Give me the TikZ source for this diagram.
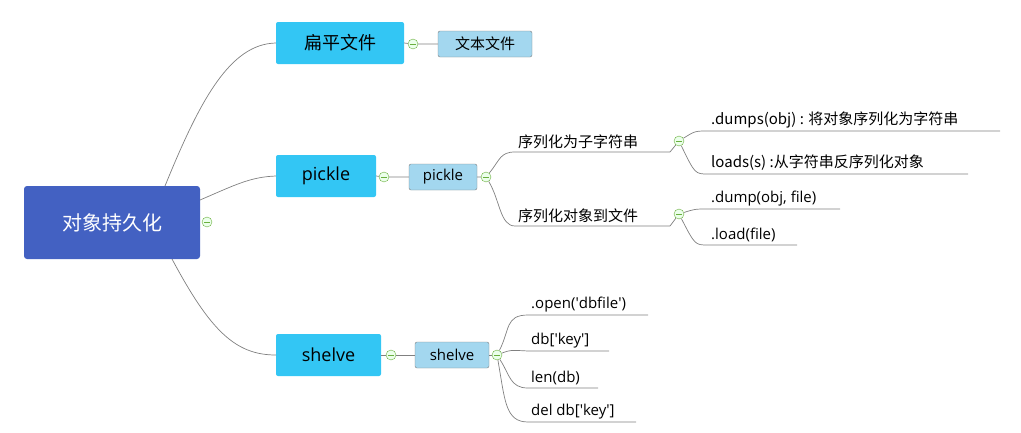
\documentclass[tikz,border=0pt]{standalone}
\usepackage{fontspec}
\setmainfont{Noto Sans CJK SC}
\newfontfamily\lat{Open Sans}
\newcommand{\q}{\textquotesingle}
\definecolor{rootc}{HTML}{4361C2}
\definecolor{mainc}{HTML}{33C6F4}
\definecolor{subc}{HTML}{A3D7EF}
\definecolor{lnc}{HTML}{808080}
\definecolor{grn}{HTML}{6AAF3D}
\begin{document}
\begin{tikzpicture}[x=1pt,y=-1pt,
 main/.style={draw=none,fill=mainc,rounded corners=2pt,minimum height=42pt,font=\fontsize{18}{18}\selectfont,inner sep=0},
 sub/.style={draw=lnc,fill=subc,rounded corners=2pt,minimum height=26pt,font=\fontsize{15}{15}\selectfont,inner sep=0},
 leaf/.style={font=\fontsize{15}{15}\selectfont,anchor=south west,inner sep=3pt},
 ln/.style={draw=lnc,line width=0.7pt},
 tog/.style={circle,draw=grn,fill=green!8,minimum size=10pt,inner sep=0,path picture={\draw[grn,line width=0.7pt] ([xshift=-3pt]path picture bounding box.center)--([xshift=3pt]path picture bounding box.center);}}]
\useasboundingbox (0,0) rectangle (1021,432);
\node[fill=rootc,rounded corners=3pt,minimum width=176pt,minimum height=73pt,text=white,font=\fontsize{20}{20}\selectfont] (root) at (112,222.5) {对象持久化};
\node[tog] (t0) at (207,222) {};
\node[main,minimum width=128pt] (flat) at (340,43) {扁平文件};
\node[main,minimum width=100pt,font=\lat\fontsize{18}{18}\selectfont] (pk) at (326,176) {pickle};
\node[main,minimum width=105pt,font=\lat\fontsize{18}{18}\selectfont] (sh) at (328.5,355) {shelve};
\coordinate (r1) at (165,186);
\coordinate (r2) at (200,200);
\coordinate (r3) at (172,259);
\draw[ln] (r1) .. controls (200,100) and (230,44) .. (flat.west);
\draw[ln] (r2) .. controls (235,185) and (250,177) .. (pk.west);
\draw[ln] (r3) .. controls (210,330) and (235,355) .. (sh.west);
% flat
\node[tog] (t1) at (413,44) {};
\node[sub,minimum width=94pt] (txt) at (485,44) {文本文件};
\draw[ln] (flat.east)--(t1)--(txt.west);
% pickle
\node[tog] (t2) at (384,177) {};
\node[sub,minimum width=68pt,font=\lat\fontsize{15}{15}\selectfont] (pk2) at (443,177) {pickle};
\node[tog] (t3) at (486,177) {};
\draw[ln] (pk.east)--(t2)--(pk2.west) (pk2.east)--(t3);
\coordinate (s1s) at (515,152); \coordinate (s2s) at (515,226);
\node[leaf] (s1) at (s1s) {序列化为子字符串};
\node[leaf] (s2) at (s2s) {序列化对象到文件};
\coordinate (s1e) at (670,152); \coordinate (s2e) at (670,226);
\draw[ln] (t3) .. controls (500,160) and (500,152) .. (s1s) -- (s1e);
\draw[ln] (t3) .. controls (500,200) and (500,226) .. (s2s) -- (s2e);
\node[tog] (t4) at (679,141) {};
\node[tog] (t5) at (679,214) {};
\draw[ln] (s1e)--(t4); \draw[ln] (s2e)--(t5);
\coordinate (a1s) at (708,131); \coordinate (a2s) at (708,174);
\coordinate (b1s) at (708,209); \coordinate (b2s) at (708,245);
\node[leaf] (a1) at (a1s) {.dumps(obj) : 将对象序列化为字符串};
\node[leaf] (a2) at (a2s) {loads(s) :从字符串反序列化对象};
\node[leaf,font=\lat\fontsize{15}{15}\selectfont] (b1) at (b1s) {.dump(obj, file)};
\node[leaf,font=\lat\fontsize{15}{15}\selectfont] (b2) at (b2s) {.load(file)};
\coordinate (a1e) at (1000,131); \coordinate (a2e) at (968,174);
\coordinate (b1e) at (840,209); \coordinate (b2e) at (797,245);
\draw[ln] (t4) .. controls (695,131) .. (a1s) -- (a1e);
\draw[ln] (t4) .. controls (695,174) .. (a2s) -- (a2e);
\draw[ln] (t5) .. controls (695,209) .. (b1s) -- (b1e);
\draw[ln] (t5) .. controls (695,245) .. (b2s) -- (b2e);
% shelve
\node[tog] (t6) at (391,355) {};
\node[sub,minimum width=74pt,font=\lat\fontsize{15}{15}\selectfont] (sh2) at (452,355) {shelve};
\node[tog] (t7) at (497,355) {};
\draw[ln] (sh.east)--(t6)--(sh2.west) (sh2.east)--(t7);
\coordinate (c1s) at (528,315); \coordinate (c2s) at (528,351);
\coordinate (c3s) at (528,388); \coordinate (c4s) at (528,422);
\begin{scope}[leaf/.append style={font=\lat\fontsize{15}{15}\selectfont}]
\node[leaf] (c1) at (c1s) {.open(\q dbfile\q)};
\node[leaf] (c2) at (c2s) {db[\q key\q]};
\node[leaf] (c3) at (c3s) {len(db)};
\node[leaf] (c4) at (c4s) {del db[\q key\q]};
\end{scope}
\coordinate (c1e) at (648,315); \coordinate (c2e) at (609,351);
\coordinate (c3e) at (598,388); \coordinate (c4e) at (636,422);
\draw[ln] (t7) .. controls (510,330) and (505,315) .. (c1s) -- (c1e);
\draw[ln] (t7) .. controls (510,350) .. (c2s) -- (c2e);
\draw[ln] (t7) .. controls (510,375) and (510,388) .. (c3s) -- (c3e);
\draw[ln] (t7) .. controls (505,400) and (505,422) .. (c4s) -- (c4e);
\end{tikzpicture}
\end{document}
